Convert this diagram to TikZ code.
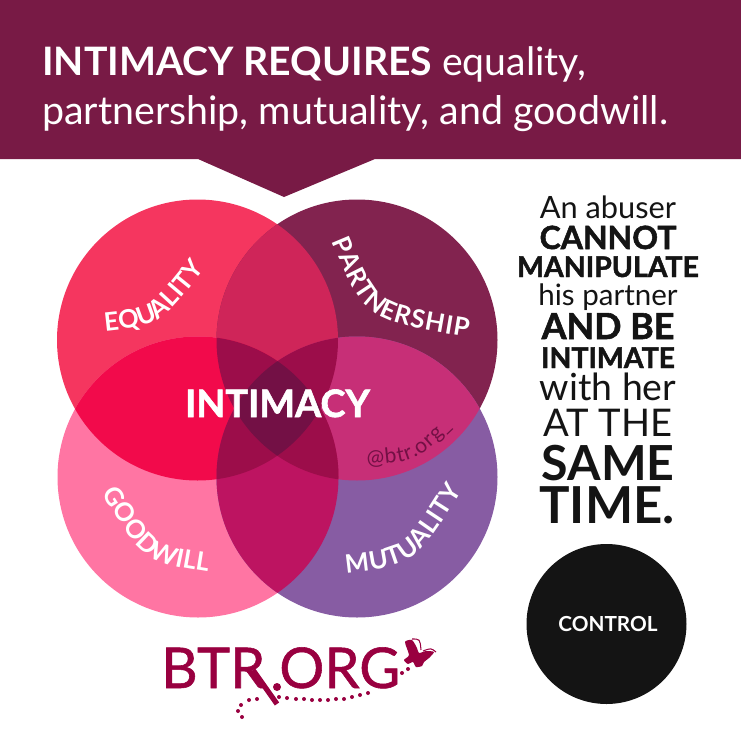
\documentclass[tikz,border=0pt]{standalone}
\usepackage{fontspec}
\setmainfont{Lato}
\newfontfamily\logofont[FakeBold=1]{Lato}
\newfontfamily\heavyfont[FakeBold=1.6]{Lato}
\usetikzlibrary{decorations.text}

\definecolor{bandcol}{HTML}{781A45}
\definecolor{equalcol}{HTML}{F5365F}
\definecolor{partcol}{HTML}{82234F}
\definecolor{goodcol}{HTML}{FF75A3}
\definecolor{mutualcol}{HTML}{875CA3}
\definecolor{epcol}{HTML}{CF2559}
\definecolor{egcol}{HTML}{F20A4B}
\definecolor{pmcol}{HTML}{C72F77}
\definecolor{gmcol}{HTML}{BD1461}
\definecolor{triplecol}{HTML}{9C0D4A}
\definecolor{centercol}{HTML}{731045}
\definecolor{logocol}{HTML}{990040}
\definecolor{blackcol}{HTML}{141414}

\tikzset{
	titleline/.style={anchor=base west,text=white,inner sep=0pt},
	sideline/.style={anchor=base,text=blackcol,inner sep=0pt},
	logoword/.style={anchor=base west,text=logocol,inner sep=0pt}
}
\newcommand{\ringE}{(197.5,340) circle (140.5)}
\newcommand{\ringP}{(357,340) circle (140.5)}
\newcommand{\ringG}{(198,477) circle (140.5)}
\newcommand{\ringM}{(357,477) circle (140.5)}

\begin{document}
\begin{tikzpicture}[x=0.02cm,y=-0.02cm]
	\useasboundingbox (0,0) rectangle (741,734);

	% Header band
	\fill[bandcol] (0,0) -- (741,0) -- (741,159) -- (375,159) -- (284,197) -- (198,159) -- (0,159) -- cycle;
	\node[titleline,font=\fontsize{22.3}{22.3}\selectfont] (titleone) at (42,75) {\textbf{INTIMACY REQUIRES} equality,};
	\node[titleline,font=\fontsize{22.4}{22.4}\selectfont] (titletwo) at (42,124) {partnership, mutuality, and goodwill.};

	% Discs
	\fill[equalcol] \ringE;
	\fill[partcol] \ringP;
	\fill[goodcol] \ringG;
	\fill[mutualcol] \ringM;

	% Overlaps of two
	\begin{scope} \clip \ringE; \fill[epcol] \ringP; \fill[egcol] \ringG; \end{scope}
	\begin{scope} \clip \ringM; \fill[pmcol] \ringP; \fill[gmcol] \ringG; \end{scope}

	% Overlaps of three
	\begin{scope} \clip \ringE; \clip \ringP; \fill[triplecol] \ringG; \fill[triplecol] \ringM; \end{scope}
	\begin{scope} \clip \ringG; \clip \ringM; \fill[triplecol] \ringE; \fill[triplecol] \ringP; \end{scope}

	% Middle
	\begin{scope} \clip \ringE; \clip \ringP; \clip \ringG; \fill[centercol] \ringM; \end{scope}

	% Disc labels
	\path[decorate,decoration={text along path,text align={fit to path},text={|\fontsize{14.5}{14.5}\selectfont\bfseries\color{white}|EQUALITY}}] (105,331) .. controls (160,325) .. (203,271);
	\path[decorate,decoration={text along path,text align={fit to path},text={|\fontsize{14.5}{14.5}\selectfont\bfseries\color{white}|PARTNERSHIP}}] (332,241) .. controls (365,320) .. (468,337);
	\path[decorate,decoration={text along path,text align={fit to path},text={|\fontsize{14.5}{14.5}\selectfont\bfseries\color{white}|GOODWILL}}] (102,493) .. controls (145,562) .. (208,572);
	\path[decorate,decoration={text along path,text align={fit to path},text={|\fontsize{14.5}{14.5}\selectfont\bfseries\color{white}|MUTUALITY}}] (346,573) .. controls (415,565) .. (462,490);
	\path[decorate,decoration={text along path,text align={fit to path},text={|\fontsize{12}{12}\selectfont\color{centercol}|@btr.org{\_}}}] (367,465) .. controls (415,462) .. (452,427);
	\node[inner sep=0pt,anchor=base,text=white,font=\heavyfont\bfseries\fontsize{21.5}{21.5}\selectfont] (middle) at (277.5,417) {INTIMACY};

	% Side text
	\node[sideline,font=\fontsize{17.5}{17.5}\selectfont] (lineone) at (608,218) {An abuser};
	\node[sideline,font=\heavyfont\bfseries\fontsize{18.2}{18.2}\selectfont] (linetwo) at (608,249) {CANNOT};
	\node[sideline,font=\heavyfont\bfseries\fontsize{16.2}{16.2}\selectfont] (linethree) at (608,277) {MANIPULATE};
	\node[sideline,font=\fontsize{16.8}{16.8}\selectfont] (linefour) at (608,305) {his partner};
	\node[sideline,font=\heavyfont\bfseries\fontsize{20.4}{20.4}\selectfont] (linefive) at (608,339) {AND BE};
	\node[sideline,font=\heavyfont\bfseries\fontsize{16.2}{16.2}\selectfont] (linesix) at (608,368) {INTIMATE};
	\node[sideline,font=\fontsize{21.3}{21.3}\selectfont] (lineseven) at (608,400) {with her};
	\node[sideline,font=\fontsize{21.7}{21.7}\selectfont] (lineeight) at (608,436) {AT THE};
	\node[sideline,font=\fontsize{27.5}{27.5}\selectfont\bfseries] (linenine) at (608,480) {SAME};
	\node[sideline,font=\fontsize{29}{29}\selectfont\bfseries] (lineten) at (607,523) {TIME.};

	% Black disc
	\fill[blackcol] (606.5,624) circle (80);
	\node[inner sep=0pt,text=white,font=\fontsize{11.8}{11.8}\selectfont\bfseries] (control) at (608,624) {CONTROL};

	% Logo
	\node[logoword,font=\logofont\fontsize{32}{32}\selectfont] (logoleft) at (161,688) {BTR};
	\node[logoword,font=\logofont\fontsize{32}{32}\selectfont] (logoright) at (279,688) {ORG};
	\draw[logocol,line width=3pt] (253,670) -- (277,704);
	\fill[logocol] (277,687) circle (4);
	\foreach \x/\y in {279/697,287/698,296/699,304/699,312/700,320/700,328/700,336/699,344/699,352/697,360/695,368/693,402/673,408/669,257/699,249/700,241/705,238/711,242/717}
		\fill[logocol] (\x,\y) circle (2);

	% Butterfly
	\fill[logocol] plot[smooth cycle,tension=0.4] coordinates {(405,642) (412,640) (417,648) (419,653) (426,651) (434,652) (429,658) (424,662) (422,666) (416,667) (413,662) (408,664) (404,660) (409,655)};
	\draw[logocol,line width=0.6pt] (412,639) .. controls (420,639) .. (421,650);
	\draw[logocol,line width=0.6pt] (423,651) .. controls (431,648) .. (436,652);
\end{tikzpicture}
\end{document}
